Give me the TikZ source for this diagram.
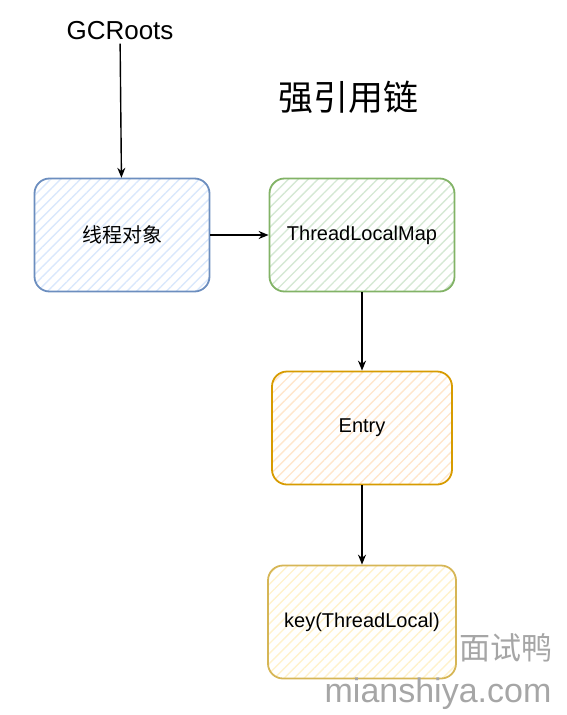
\documentclass[tikz,border=0pt]{standalone}
\usepackage{fontspec}
\setmainfont{Liberation Sans}
\newfontfamily\cjk{Noto Sans CJK SC}
\usetikzlibrary{arrows.meta,patterns.meta}
\definecolor{bluedraw}{HTML}{6C8EBF}
\definecolor{bluefill}{HTML}{DAE8FC}
\definecolor{greendraw}{HTML}{82B366}
\definecolor{greenfill}{HTML}{D5E8D4}
\definecolor{orangedraw}{HTML}{D79B00}
\definecolor{orangefill}{HTML}{FFE6CC}
\definecolor{yellowdraw}{HTML}{D6B656}
\definecolor{yellowfill}{HTML}{FFF2CC}
\begin{document}
\begin{tikzpicture}[x=1pt, y=-1pt,
	box/.style={shape=rectangle,
				rounded corners=15pt,
				line width=1.8pt,
				minimum width=180pt,
				minimum height=113pt,
				font=\fontsize{20}{24}\selectfont},
	hatch/.style={pattern={Lines[angle=45, distance=7pt, line width=1.4pt]},
				  pattern color=#1},
	link/.style={-{Stealth[length=10pt, width=8pt]}, line width=1.4pt}]
	\useasboundingbox (0,0) rectangle (567,715);

	\draw (120, 31) node[font=\fontsize{26}{30}\selectfont](gc){GCRoots};
	\draw (348, 97) node[font=\cjk\fontsize{35}{40}\selectfont](title){强引用链};

	\draw (122, 235) node[box,
					 minimum width=175pt,
					 draw=bluedraw,
					 hatch=bluefill,
					 font=\cjk\fontsize{20}{24}\selectfont](thread){线程对象};
	\draw (362, 235) node[box,
					 minimum width=185pt,
					 draw=greendraw,
					 hatch=greenfill](map){ThreadLocalMap};
	\draw (362, 428) node[box,
					 draw=orangedraw,
					 hatch=orangefill](entry){Entry};
	\draw (362, 622) node[box,
					 minimum width=188pt,
					 draw=yellowdraw,
					 hatch=yellowfill](key){key(ThreadLocal)};

	\draw [link](gc) -- (thread);
	\draw [link](thread) -- (map);
	\draw [link](map) -- (entry);
	\draw [link](entry) -- (key);

	% watermark
	\draw (506, 648) node[text=black!35, font=\cjk\fontsize{31}{34}\selectfont](wmcn){面试鸭};
	\draw (438, 694) node[text=black!35, font=\fontsize{34}{38}\selectfont](wmen){mianshiya.com};
\end{tikzpicture}
\end{document}
